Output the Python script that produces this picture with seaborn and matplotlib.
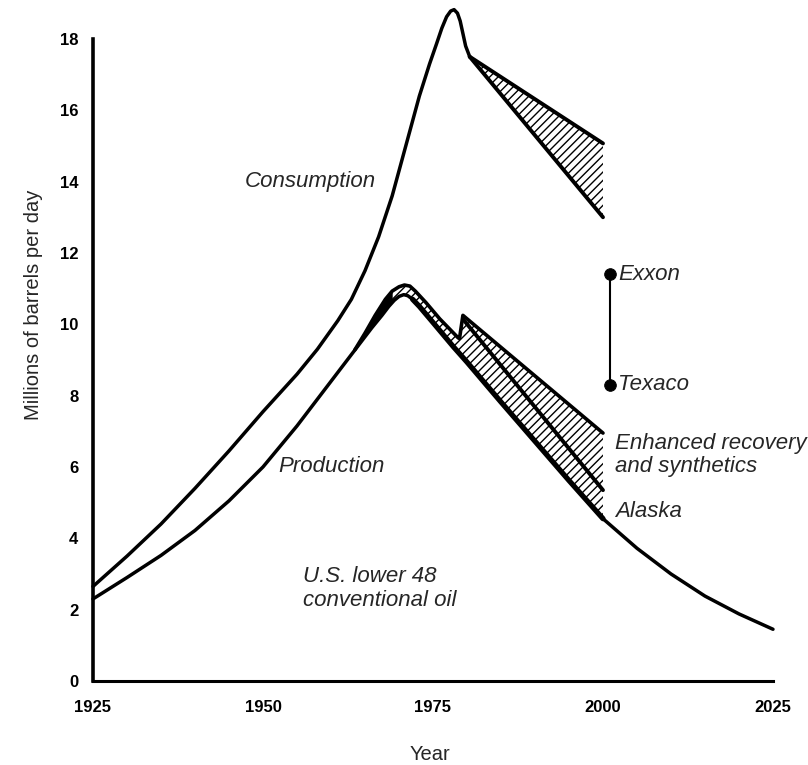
import numpy as np
import matplotlib
matplotlib.use("Agg")
import matplotlib.pyplot as plt
import seaborn as sns

# ==========================
# Data
# ==========================
# Consumption (history)
cons_years = [1925, 1930, 1935, 1940, 1945, 1950, 1955, 1958, 1961, 1963, 1965,
              1967, 1969, 1971, 1973, 1974.5, 1975.5, 1976.3, 1977, 1977.6, 1978.1,
              1978.6, 1979.0, 1979.4, 1979.8, 1980.4]
cons_vals = [2.65, 3.5, 4.4, 5.4, 6.45, 7.55, 8.6, 9.3, 10.1, 10.7, 11.5,
             12.45, 13.6, 15.0, 16.4, 17.3, 17.85, 18.3, 18.62, 18.78, 18.82,
             18.72, 18.5, 18.15, 17.8, 17.5]

# Consumption forecast wedge
cons_fc_years = [1980.4, 2000]
cons_fc_high = [17.5, 15.07]
cons_fc_low = [17.5, 13.0]

# U.S. lower 48 conventional oil production
prod_years = [1925, 1930, 1935, 1940, 1945, 1950, 1955, 1960, 1962, 1964, 1966,
              1967.5, 1968.5, 1969.3, 1970, 1970.7, 1971.3, 1972, 1973, 1975, 1978,
              1980, 1985, 1990, 1995, 2000, 2005, 2010, 2015, 2020, 2025]
prod_vals = [2.3, 2.9, 3.52, 4.22, 5.05, 6.0, 7.15, 8.4, 8.9, 9.4, 9.9,
             10.25, 10.5, 10.67, 10.78, 10.83, 10.8, 10.7, 10.5, 10.05, 9.37,
             8.94, 7.82, 6.72, 5.62, 4.55, 3.72, 3.0, 2.38, 1.88, 1.45]

# thin strip above production around the peak
strip_years = [1963.5, 1965, 1966.5, 1968, 1969, 1970, 1970.8, 1971.6, 1972.4,
               1974, 1976, 1978.7]
strip_vals = [9.28, 9.75, 10.25, 10.7, 10.93, 11.05, 11.1, 11.07, 10.93,
              10.6, 10.15, 9.62]

# Enhanced recovery and synthetics (top) / Alaska (middle)
top_years = [1978.9, 1979.4, 2000]
top_vals = [9.6, 10.25, 6.95]
mid_years = [1979.6, 2000]
mid_vals = [10.1, 5.35]

# Exxon / Texaco forecasts for 2000
fc_names = ["Exxon", "Texaco"]
fc_year = [2001, 2001]
fc_vals = [11.4, 8.3]

xticks = [1925, 1950, 1975, 2000, 2025]
yticks = list(range(0, 19, 2))

# ==========================
# Plot
# ==========================
sns.set_style("white")
plt.rcParams["font.family"] = ["Liberation Sans", "DejaVu Sans"]
plt.rcParams["hatch.color"] = "black"
plt.rcParams["hatch.linewidth"] = 1.0

fig = plt.figure(figsize=(8.08, 7.65), dpi=100)
ax = fig.add_axes([0.10668, 0.1005, 0.8584, 0.8995])
ax.set_xlim(1924, 2026)
ax.set_ylim(-0.2, 19.09)

LW = 2.5
line_kw = dict(color="black", ax=ax, zorder=3, sort=False, estimator=None)

# consumption forecast wedge
ax.fill_between(cons_fc_years, cons_fc_low, cons_fc_high, facecolor="white",
                edgecolor="black", hatch="////", linewidth=0, zorder=1)
sns.lineplot(x=cons_fc_years, y=cons_fc_high, lw=2.8, **line_kw)
sns.lineplot(x=cons_fc_years, y=cons_fc_low, lw=2.8, **line_kw)

# consumption history
sns.lineplot(x=cons_years, y=cons_vals, lw=LW, **line_kw)

# production bands
env_years = strip_years + top_years
env_vals = strip_vals + top_vals
grid = np.union1d(env_years, [y for y in prod_years if strip_years[0] <= y <= 2000])
upper = np.interp(grid, env_years, env_vals)
lower = np.interp(grid, prod_years, prod_vals)
ax.fill_between(grid, lower, upper, facecolor="white", edgecolor="black",
                hatch="////", linewidth=0, zorder=1)
left = grid <= 1969
ax.fill_between(grid[left], lower[left], upper[left], color="black", linewidth=0, zorder=2)

sns.lineplot(x=env_years, y=env_vals, lw=2.6, **line_kw)
sns.lineplot(x=mid_years, y=mid_vals, lw=2.8, **line_kw)

# lower 48 production
sns.lineplot(x=prod_years, y=prod_vals, lw=LW, **line_kw)
thick = [i for i, y in enumerate(prod_years) if 1972 <= y <= 2000]
sns.lineplot(x=[prod_years[i] for i in thick], y=[prod_vals[i] for i in thick],
             lw=3.8, **line_kw)

# Exxon / Texaco
sns.lineplot(x=fc_year, y=fc_vals, lw=1.5, **line_kw)
sns.scatterplot(x=fc_year, y=fc_vals, color="black", s=70, ax=ax, zorder=4,
                edgecolor="black")

# labels
tkw = dict(fontsize=16, style="italic", va="center", ha="left")
ax.text(1947.35, 14.0, "Consumption", **tkw)
ax.text(1952.2, 6.0, "Production", **tkw)
ax.text(1955.9, 2.92, "U.S. lower 48", **tkw)
ax.text(1955.9, 2.27, "conventional oil", **tkw)
for n, yr, v in zip(fc_names, fc_year, fc_vals):
    ax.text(yr + 1.2, v, n, **tkw)
ax.text(2001.8, 6.67, "Enhanced recovery", **tkw)
ax.text(2001.8, 6.0, "and synthetics", **tkw)
ax.text(2001.8, 4.74, "Alaska", **tkw)

# axes styling
for s in ["top", "right"]:
    ax.spines[s].set_visible(False)
ax.spines["left"].set_position(("data", 1925))
ax.spines["bottom"].set_position(("data", 0))
ax.spines["left"].set_bounds(0, 18)
ax.spines["bottom"].set_bounds(1925, 2025)
ax.spines["left"].set_linewidth(2.6)
ax.spines["bottom"].set_linewidth(2.2)
ax.spines["left"].set_color("black")
ax.spines["bottom"].set_color("black")

ax.set_xticks(xticks)
ax.set_yticks(yticks)
ax.set_xticklabels([str(x) for x in xticks], fontsize=12, fontweight="bold")
ax.set_yticklabels([str(y) for y in yticks], fontsize=12, fontweight="bold")
ax.tick_params(axis="y", direction="in", length=14, width=1.6, pad=10.5, colors="black")
ax.tick_params(axis="x", direction="in", length=14, width=1.1, pad=14, colors="black")

ax.set_ylabel("Millions of barrels per day", fontsize=14.5)
ax.set_xlabel("Year", fontsize=14.5)
ax.yaxis.set_label_coords(-0.062, 0.557)
ax.xaxis.set_label_coords(0.496, -0.083)

plt.savefig("out.png", dpi=100)
plt.close()
